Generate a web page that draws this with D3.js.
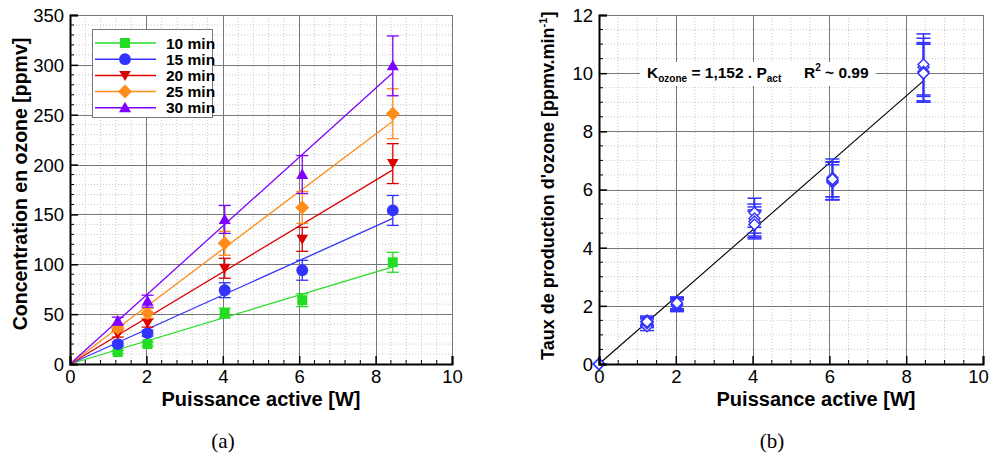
<!DOCTYPE html>
<html><head><meta charset="utf-8">
<script src="https://cdn.jsdelivr.net/npm/d3@7"></script>
<style>body{margin:0;background:#fff}svg{display:block}text{font-family:"Liberation Sans",Arial,sans-serif}</style>
</head><body><svg id="c" width="992" height="459"></svg>
<script>
// ---------- data ----------
const power = [1.25, 2.03, 4.05, 6.08, 8.45];
const seriesNames = ["10 min", "15 min", "20 min", "25 min", "30 min"];
const seriesColors = ["#22dd22", "#3333ff", "#dd0000", "#ff8c1a", "#8000ff"];
const conc10 = [12, 20, 51, 64, 102];
const conc15 = [20, 31, 74, 94, 154];
const conc20 = [30, 41, 96, 125, 201];
const conc25 = [36, 51, 121, 157, 251];
const conc30 = [43, 63, 145, 190, 299];
const err10 = [1.5, 2, 5, 6.5, 10];
const err15 = [2, 3, 7.5, 10, 15];
const err20 = [3, 4, 10, 12, 20];
const err25 = [3.5, 5, 12, 16, 25];
const err30 = [4, 6, 14, 19, 30];
const fitSlopes = [11.52, 17.28, 23.04, 28.8, 34.56];
const fitXmax = 8.45;
const ratePower = [0, 1.25, 2.03, 4.05, 6.08, 8.45];
const rate10 = [0, 1.3, 2.0, 5.2, 6.4, 10.2];
const rate15 = [0, 1.4, 2.1, 5.0, 6.3, 10.3];
const rate20 = [0, 1.5, 2.05, 4.8, 6.25, 10.05];
const rate25 = [0, 1.45, 2.05, 4.9, 6.3, 10.0];
const rate30 = [0, 1.45, 2.1, 4.8, 6.35, 10.0];
const rateErr10 = [0, 0.15, 0.2, 0.5, 0.65, 1.0];
const rateErr15 = [0, 0.15, 0.2, 0.5, 0.65, 1.05];
const rateErr20 = [0, 0.15, 0.2, 0.5, 0.6, 1.0];
const rateErr25 = [0, 0.15, 0.2, 0.5, 0.65, 1.0];
const rateErr30 = [0, 0.15, 0.2, 0.45, 0.6, 1.0];
const rateSlope = 1.152;
const xTicks = [0, 2, 4, 6, 8, 10];
const yTicksA = [0, 50, 100, 150, 200, 250, 300, 350];
const yTicksB = [0, 2, 4, 6, 8, 10, 12];

const conc = [conc10, conc15, conc20, conc25, conc30];
const errs = [err10, err15, err20, err25, err30];
const rates = [rate10, rate15, rate20, rate25, rate30];
const rateErrs = [rateErr10, rateErr15, rateErr20, rateErr25, rateErr30];

const svg = d3.select("#c");
svg.append("rect").attr("width", 992).attr("height", 459).attr("fill", "#fff");

function panel(xr, yr, ydom, yTicks, xMinorStep, yMinorStep) {
  const x = d3.scaleLinear().domain([0, 10]).range(xr);
  const y = d3.scaleLinear().domain(ydom).range(yr);
  const g = svg.append("g");
  const xMinor = d3.range(0, 10 + 1e-9, xMinorStep).filter(v => !xTicks.some(t => Math.abs(t - v) < 1e-6));
  const yMinor = d3.range(ydom[0], ydom[1] + 1e-9, yMinorStep).filter(v => !yTicks.some(t => Math.abs(t - v) < 1e-6));
  g.selectAll(".mgx").data(xMinor).join("line")
    .attr("x1", d => x(d)).attr("x2", d => x(d)).attr("y1", yr[0]).attr("y2", yr[1])
    .attr("stroke", "#c8c8c8").attr("stroke-dasharray", "1,2");
  g.selectAll(".mgy").data(yMinor).join("line")
    .attr("y1", d => y(d)).attr("y2", d => y(d)).attr("x1", xr[0]).attr("x2", xr[1])
    .attr("stroke", "#c8c8c8").attr("stroke-dasharray", "1,2");
  g.selectAll(".Mgx").data(xTicks.slice(1)).join("line")
    .attr("x1", d => Math.round(x(d)) + 0.5).attr("x2", d => Math.round(x(d)) + 0.5).attr("y1", yr[0]).attr("y2", yr[1])
    .attr("stroke", "#777").attr("stroke-width", 1);
  g.selectAll(".Mgy").data(yTicks.slice(1)).join("line")
    .attr("y1", d => Math.round(y(d)) + 0.5).attr("y2", d => Math.round(y(d)) + 0.5).attr("x1", xr[0]).attr("x2", xr[1])
    .attr("stroke", "#777").attr("stroke-width", 1);
  return { x, y, g, xMinor, yMinor };
}

function axes(p, yTicks, yfmt, lastShift) {
  const { x, y } = p;
  const [x0] = x.range(); const [y0] = y.range();
  const top = svg.append("g");
  top.selectAll(".mtx").data(p.xMinor).join("line")
    .attr("x1", d => x(d)).attr("x2", d => x(d)).attr("y1", y0).attr("y2", y0 - 4).attr("stroke", "#000");
  top.selectAll(".mty").data(p.yMinor).join("line")
    .attr("y1", d => y(d)).attr("y2", d => y(d)).attr("x1", x0).attr("x2", x0 + 4).attr("stroke", "#000");
  const ax = top.append("g").attr("transform", `translate(0,${y0})`)
    .call(d3.axisBottom(x).tickValues(xTicks).tickSize(-8).tickPadding(6).tickFormat(d3.format("d")));
  const ay = top.append("g").attr("transform", `translate(${x0},0)`)
    .call(d3.axisLeft(y).tickValues(yTicks).tickSize(-8).tickPadding(6).tickFormat(yfmt));
  [ax, ay].forEach(a => {
    a.select(".domain").attr("stroke", "#000").attr("stroke-width", 2);
    a.selectAll(".tick line").attr("stroke", "#000").attr("stroke-width", 1.5);
    a.selectAll("text").attr("font-size", 18.5).attr("fill", "#000").attr("font-family", "Liberation Sans, Arial");
  });
  ay.selectAll(".tick text").attr("dy", "0.35em");
  if (lastShift) ax.selectAll(".tick text").filter(d => d === 10).attr("x", lastShift);
}

function sym(type, size) {
  if (type === "tridown") return "M0,5.5L-5.8,-4.5L5.8,-4.5Z";
  if (type === "triup") return "M0,-6L-6,4.5L6,4.5Z";
  if (type === "square") return d3.symbol(d3.symbolSquare, size)();
  if (type === "circle") return d3.symbol(d3.symbolCircle, size)();
  if (type === "diamond") { const s = size; return `M0,${-s}L${s},0L0,${s}L${-s},0Z`; }
}
const markerTypes = [["square", 100], ["circle", 110], ["tridown", 0], ["diamond", 7], ["triup", 0]];

// ---------- panel (a) ----------
const A = panel([70, 452], [364, 15], [0, 350], yTicksA, 0.4, 10);
seriesNames.forEach((n, i) => {
  A.g.append("line").attr("x1", A.x(0)).attr("y1", A.y(0))
    .attr("x2", A.x(fitXmax)).attr("y2", A.y(fitSlopes[i] * fitXmax))
    .attr("stroke", seriesColors[i]).attr("stroke-width", 1.3);
});
seriesNames.forEach((n, i) => {
  const gg = A.g.append("g");
  power.forEach((px, j) => {
    const cx = A.x(px), v = conc[i][j], e = errs[i][j];
    gg.append("line").attr("x1", cx).attr("x2", cx).attr("y1", A.y(v - e)).attr("y2", A.y(v + e)).attr("stroke", seriesColors[i]).attr("stroke-width", 1.3);
    [v - e, v + e].forEach(t => gg.append("line").attr("x1", cx - 6).attr("x2", cx + 6).attr("y1", A.y(t)).attr("y2", A.y(t)).attr("stroke", seriesColors[i]).attr("stroke-width", 1.3));
    gg.append("path").attr("d", sym(markerTypes[i][0], markerTypes[i][1])).attr("transform", `translate(${cx},${A.y(v)})`).attr("fill", seriesColors[i]);
  });
});
axes(A, yTicksA, d3.format("d"));

const lg = svg.append("g");
lg.append("rect").attr("x", 92.5).attr("y", 29.5).attr("width", 120).attr("height", 88).attr("fill", "#fff").attr("stroke", "#777");
seriesNames.forEach((n, i) => {
  const yy = 43 + i * 16.2;
  lg.append("line").attr("x1", 95).attr("x2", 156).attr("y1", yy).attr("y2", yy).attr("stroke", seriesColors[i]).attr("stroke-width", 1.5);
  lg.append("path").attr("d", sym(markerTypes[i][0], markerTypes[i][1])).attr("transform", `translate(125,${yy})`).attr("fill", seriesColors[i]);
  lg.append("text").attr("x", 166).attr("y", yy + 5.5).attr("font-size", 15.5).attr("font-weight", "bold").text(n);
});

svg.append("text").attr("transform", "translate(27,184) rotate(-90)").attr("text-anchor", "middle")
  .attr("font-size", 19.5).attr("font-weight", "bold").text("Concentration en ozone [ppmv]");
svg.append("text").attr("x", 261).attr("y", 406).attr("text-anchor", "middle")
  .attr("font-size", 20).attr("font-weight", "bold").text("Puissance active [W]");
svg.append("text").attr("x", 223).attr("y", 448).attr("text-anchor", "middle")
  .attr("font-size", 21).style("font-family", "Liberation Serif, serif").text("(a)");

// ---------- panel (b) ----------
const B = panel([599, 983], [364, 15], [0, 12], yTicksB, 0.5, 0.5);
B.g.append("line").attr("x1", B.x(0)).attr("y1", B.y(0)).attr("x2", B.x(fitXmax)).attr("y2", B.y(rateSlope * fitXmax))
  .attr("stroke", "#000").attr("stroke-width", 1.1);
rates.forEach((r, i) => {
  const gg = B.g.append("g");
  ratePower.forEach((px, j) => {
    const cx = B.x(px), v = r[j], e = rateErrs[i][j];
    if (e > 0) {
      gg.append("line").attr("x1", cx).attr("x2", cx).attr("y1", B.y(v - e)).attr("y2", B.y(v + e)).attr("stroke", "#3333ff").attr("stroke-width", 1.5);
      [v - e, v + e].forEach(t => gg.append("line").attr("x1", cx - 7).attr("x2", cx + 7).attr("y1", B.y(t)).attr("y2", B.y(t)).attr("stroke", "#3333ff").attr("stroke-width", 1.5));
    }
  });
});
rates.forEach((r, i) => {
  ratePower.forEach((px, j) => {
    B.g.append("path").attr("d", sym("diamond", 5.5)).attr("transform", `translate(${B.x(px)},${B.y(r[j])})`)
      .attr("fill", "#fff").attr("stroke", "#3333ff").attr("stroke-width", 1.4);
  });
});
svg.append("rect").attr("x", 640).attr("y", 62).attr("width", 236).attr("height", 24).attr("fill", "#fff");
const ann = svg.append("text").attr("x", 647).attr("y", 78).attr("font-size", 15.5).attr("font-weight", "bold");
ann.append("tspan").text("K");
ann.append("tspan").attr("font-size", 10).attr("dy", 4).text("ozone");
ann.append("tspan").attr("dy", -4).text(" = 1,152 . P");
ann.append("tspan").attr("font-size", 10).attr("dy", 4).text("act");
const ann2 = svg.append("text").attr("x", 804).attr("y", 78).attr("font-size", 15.5).attr("font-weight", "bold");
ann2.append("tspan").text("R");
ann2.append("tspan").attr("font-size", 10).attr("dy", -7).text("2");
ann2.append("tspan").attr("dy", 7).text(" ~ 0.99");
axes(B, yTicksB, d3.format("d"), -5);

const yt = svg.append("text").attr("transform", "translate(554,360) rotate(-90)").attr("text-anchor", "start")
  .attr("font-size", 18).attr("font-weight", "bold");
yt.append("tspan").text("Taux de production d'ozone [ppmv.min");
yt.append("tspan").attr("font-size", 11).attr("dy", -7).text("-1");
yt.append("tspan").attr("dy", 7).text("]");
svg.append("text").attr("x", 816).attr("y", 406).attr("text-anchor", "middle")
  .attr("font-size", 20).attr("font-weight", "bold").text("Puissance active [W]");
svg.append("text").attr("x", 772).attr("y", 448).attr("text-anchor", "middle")
  .attr("font-size", 21).style("font-family", "Liberation Serif, serif").text("(b)");
</script></body></html>
